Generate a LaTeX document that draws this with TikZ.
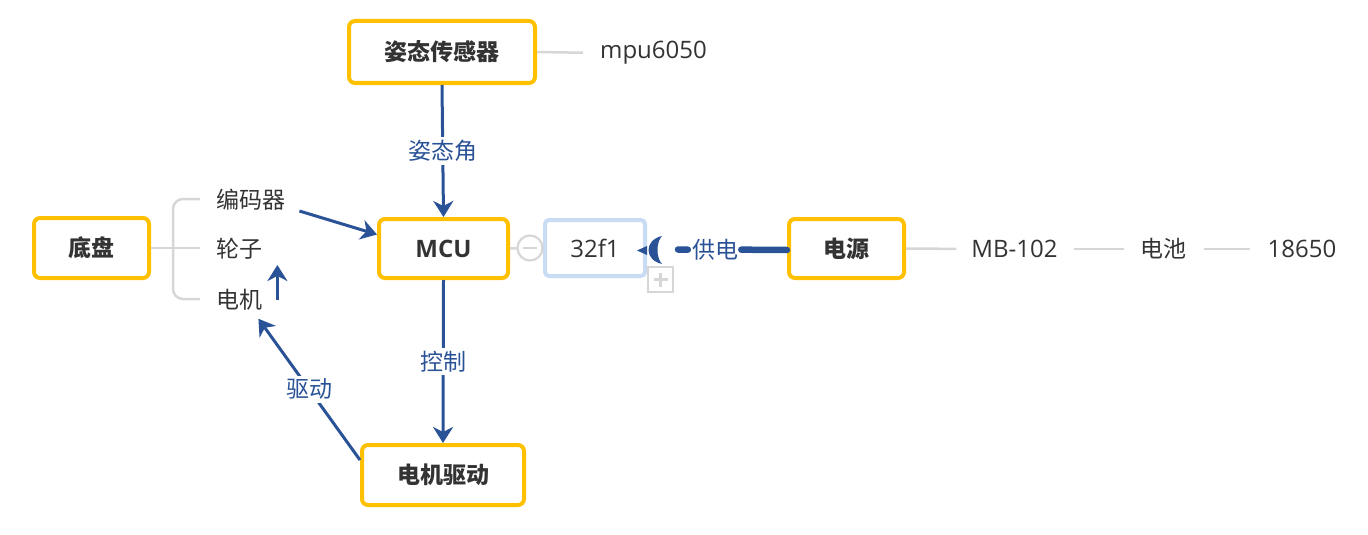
\documentclass[tikz,border=0pt]{standalone}
\usepackage{fontspec}
\setmainfont{Open Sans}
\newfontfamily\cjk{Noto Sans CJK SC}
\usetikzlibrary{arrows.meta,calc}
\definecolor{ybox}{HTML}{FFC000}
\definecolor{arrblue}{HTML}{2A5296}
\definecolor{txt}{HTML}{333333}
\definecolor{gline}{HTML}{D6D6D6}
\definecolor{lblue}{HTML}{C8DCF4}
\begin{document}
\begin{tikzpicture}[x=1pt,y=-1pt,
  mainbox/.style={draw=ybox, line width=4pt, rounded corners=6pt, fill=white, text=txt, inner sep=0pt, font=\cjk\bfseries\fontsize{23}{27}\selectfont},
  latinbox/.style={mainbox, font=\bfseries\fontsize{24}{28}\selectfont},
  cjkleaf/.style={text=txt, inner sep=2pt, font=\cjk\fontsize{23}{27}\selectfont},
  latleaf/.style={text=txt, inner sep=0pt, font=\fontsize{24}{28}\selectfont},
  lbl/.style={text=arrblue, fill=white, inner sep=3pt, font=\cjk\fontsize{23}{27}\selectfont},
  arr/.style={draw=arrblue, line width=3pt, -{Stealth[length=16pt,width=20pt,inset=5pt]}},
  supply/.style={draw=arrblue, line width=6.5pt, line cap=round},
  gl/.style={draw=gline, line width=2.5pt}]
\useasboundingbox (0,0) rectangle (1368,535);

% main boxes
\node[mainbox, minimum width=186pt, minimum height=62pt] (att) at (442,52) {姿态传感器};
\node[mainbox, minimum width=115pt, minimum height=60pt] (base) at (91.5,248) {底盘};
\node[latinbox, minimum width=129pt, minimum height=59pt] (mcu) at (443.5,248.5) {MCU};
\node[mainbox, minimum width=162pt, minimum height=60pt] (drv) at (443,475) {电机驱动};
\node[mainbox, minimum width=115pt, minimum height=59pt] (psu) at (846.5,248.5) {电源};
\node[draw=lblue, line width=4pt, rounded corners=4pt, fill=white, text=txt, inner sep=0pt,
      font=\fontsize{24}{28}\selectfont, minimum width=100pt, minimum height=56pt] (chip) at (595,248) {32f1};

% leaves
\node[latleaf, anchor=west] (mpu) at (600,53) {mpu6050};
\node[cjkleaf, anchor=west] (enc) at (214,200) {编码器};
\node[cjkleaf, anchor=west] (whl) at (214,249) {轮子};
\node[cjkleaf, anchor=west] (mot) at (214,300) {电机};
\node[latleaf] (mb) at (1014.5,249) {MB-102};
\node[cjkleaf, inner sep=0pt] (bat) at (1163.5,249) {电池};
\node[latleaf] (cell) at (1302,249) {18650};

% gray connectors
\draw[gl, shorten >=17pt] (att.east) -- (mpu.west);
\draw[gl, shorten >=15pt] (psu.east) -- (mb.west);
\draw[gl, shorten <=16pt, shorten >=16pt] (mb.east) -- (bat.west);
\draw[gl, shorten <=17pt, shorten >=18pt] (bat.east) -- (cell.west);
\coordinate (bj) at (173,248);
\draw[gl] (base.east) -- (bj);
\draw[gl, rounded corners=10pt] ($(enc.west)+(-14,-1)$) -| (bj) |- ($(mot.west)+(-14,-1)$);
\draw[gl] (bj) -- ($(whl.west)+(-14,-1)$);

% MCU - 32f1 with collapse marker
\draw[gl] (mcu.east) -- (chip.west);
\node[circle, draw=gline, line width=2.2pt, fill=white, minimum size=25pt, inner sep=0pt] (minus) at (530,248) {};
\draw[gl, line width=2.2pt] ($(minus.center)+(-7,0)$) -- ($(minus.center)+(7,0)$);
\node[draw=gline, line width=2.5pt, fill=white, minimum size=25pt, inner sep=0pt] (plus) at (660.5,279.5) {};
\draw[gl, line width=2.5pt] ($(plus.center)+(-7,0)$) -- ($(plus.center)+(7,0)$);
\draw[gl, line width=2.5pt] ($(plus.center)+(0,-7)$) -- ($(plus.center)+(0,7)$);

% blue arrows
\draw[arr] (att.south) -- node[lbl]{姿态角} (mcu.north);
\draw[arr] (mcu.south) -- node[lbl]{控制} (drv.north);
\draw[arr] ($(drv.north west)+(0,17)$) -- node[lbl]{驱动} ($(mot.south east)+(-6,6)$);
\draw[arr] ($(enc.east)+(12,11)$) -- ($(mcu.west)+(0,-14)$);
\draw[arr] ($(mot.east)+(13,0)$) -- ($(whl.east)+(13,16)$);

% supply connector
\path ($(psu.west)+(0,1.5)$) coordinate (ps) -- node[pos=0.66, lbl, inner sep=0pt] (pwl) {供电} ($(chip.east)+(31,1.5)$) coordinate (se);
\draw[supply] (ps) -- ($(pwl.east)+(3,0)$);
\draw[supply] ($(pwl.west)+(-4,0)$) -- (se);
\begin{scope}[shift={(chip.east)}]
  \fill[arrblue] (-10,2.5) -- (0,-2) -- (0,7) -- cycle;
  \fill[arrblue] (15,-12) .. controls (-3,-8) and (-3,12) .. (15,16) .. controls (9,10) and (9,-6) .. (15,-12) -- cycle;
\end{scope}
\end{tikzpicture}
\end{document}
